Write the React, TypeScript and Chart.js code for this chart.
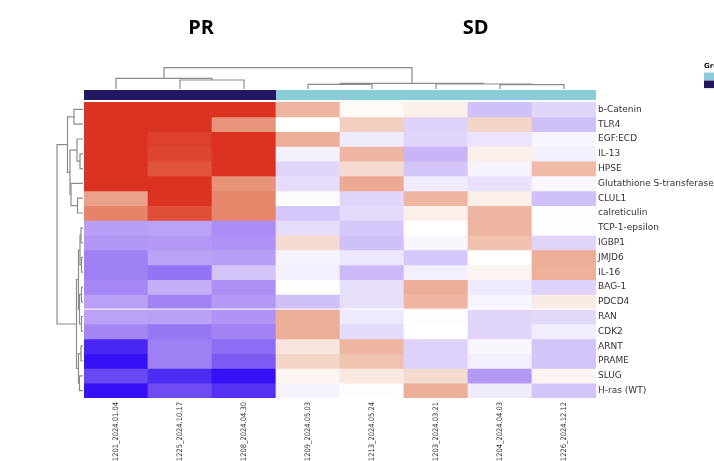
import React, { useEffect, useRef } from "react";
import { Chart, registerables } from "chart.js";

Chart.register(...registerables);

// ---------- data ----------
const samples = [
  "1201_2024.01.04",
  "1225_2024.10.17",
  "1208_2024.04.30",
  "1209_2024.05.03",
  "1213_2024.05.24",
  "1203_2024.03.21",
  "1204_2024.04.03",
  "1226_2024.12.12",
];

const sampleGroups = ["PR", "PR", "PR", "SD", "SD", "SD", "SD", "SD"];

const groupNames = ["PR", "SD"];
const groupTitlePositions = [1.33, 5.62]; // in column units

const genes = [
  "b-Catenin",
  "TLR4",
  "EGF:ECD",
  "IL-13",
  "HPSE",
  "Glutathione S-transferase",
  "CLUL1",
  "calreticulin",
  "TCP-1-epsilon",
  "IGBP1",
  "JMJD6",
  "IL-16",
  "BAG-1",
  "PDCD4",
  "RAN",
  "CDK2",
  "ARNT",
  "PRAME",
  "SLUG",
  "H-ras (WT)",
];

// scaled expression (-1 .. 1), one row per gene, one column per sample
const cellValues: number[][] = [
  [1.0, 1.0, 1.0, 0.45, 0.03, 0.1, -0.3, -0.2],
  [1.0, 1.0, 0.62, 0.0, 0.3, -0.22, 0.25, -0.3],
  [1.0, 0.95, 1.0, 0.5, -0.1, -0.2, -0.13, -0.05],
  [1.0, 0.93, 1.0, -0.07, 0.45, -0.35, 0.1, -0.08],
  [1.0, 0.88, 1.0, -0.2, 0.22, -0.28, -0.06, 0.42],
  [1.0, 1.0, 0.63, -0.17, 0.52, -0.1, -0.14, -0.04],
  [0.55, 1.0, 0.68, 0.02, -0.2, 0.45, 0.1, -0.3],
  [0.7, 0.9, 0.68, -0.27, -0.18, 0.1, 0.45, 0.01],
  [-0.45, -0.43, -0.52, -0.17, -0.27, 0.0, 0.45, 0.01],
  [-0.48, -0.47, -0.5, 0.22, -0.3, -0.04, 0.38, -0.2],
  [-0.57, -0.43, -0.45, -0.06, -0.12, -0.27, 0.0, 0.5],
  [-0.57, -0.62, -0.28, -0.08, -0.33, -0.08, 0.07, 0.48],
  [-0.54, -0.38, -0.51, 0.01, -0.15, 0.5, -0.11, -0.22],
  [-0.44, -0.56, -0.47, -0.3, -0.15, 0.45, -0.05, 0.12],
  [-0.43, -0.44, -0.49, 0.5, -0.11, 0.01, -0.2, -0.19],
  [-0.55, -0.61, -0.56, 0.5, -0.18, 0.0, -0.2, -0.09],
  [-0.92, -0.57, -0.65, 0.15, 0.45, -0.22, -0.04, -0.28],
  [-1.0, -0.57, -0.72, 0.25, 0.37, -0.22, -0.08, -0.28],
  [-0.8, -0.9, -1.0, 0.06, 0.14, 0.22, -0.47, 0.06],
  [-1.0, -0.78, -0.88, -0.06, -0.01, 0.5, -0.1, -0.28],
];

// linkage: [childA, childB, height]; new node id = n + row index
const colLinkage: number[][] = [
  [1, 2, 9],
  [0, 8, 10.7],
  [6, 7, 4.3],
  [3, 4, 4.7],
  [5, 10, 5.0],
  [11, 12, 5.7],
  [9, 13, 21.3],
];

const rowLinkage: number[][] = [
  [0, 1, 9],
  [3, 4, 3],
  [2, 21, 6],
  [6, 7, 5.5],
  [5, 23, 12],
  [22, 24, 13],
  [20, 25, 15.5],
  [8, 9, 2],
  [10, 11, 1.5],
  [27, 28, 3],
  [12, 13, 1.5],
  [14, 15, 1.5],
  [30, 31, 3.5],
  [29, 32, 4.5],
  [16, 17, 2],
  [18, 19, 3.5],
  [34, 35, 4.5],
  [33, 36, 6.5],
  [26, 37, 26],
];

// ---------- styles ----------
const groupColors: Record<string, string> = { PR: "#241660", SD: "#89CDD9" };
const legendOrder = ["SD", "PR"];

const colorStops: [number, number[]][] = [
  [-1, [53, 17, 244]],
  [-0.75, [118, 84, 242]],
  [-0.5, [174, 146, 245]],
  [-0.25, [217, 204, 249]],
  [0, [255, 255, 255]],
  [0.25, [244, 214, 200]],
  [0.5, [236, 174, 150]],
  [0.75, [228, 120, 92]],
  [1, [220, 50, 33]],
];

function valueColor(v: number): string {
  const c = Math.max(-1, Math.min(1, v));
  for (let i = 0; i < colorStops.length - 1; i++) {
    const [a, ca] = colorStops[i];
    const [b, cb] = colorStops[i + 1];
    if (c >= a && c <= b) {
      const t = (c - a) / (b - a);
      const r = Math.round(ca[0] + (cb[0] - ca[0]) * t);
      const g = Math.round(ca[1] + (cb[1] - ca[1]) * t);
      const bl = Math.round(ca[2] + (cb[2] - ca[2]) * t);
      return `rgb(${r},${g},${bl})`;
    }
  }
  return "#fff";
}

function drawDendro(
  ctx: CanvasRenderingContext2D,
  linkage: number[][],
  n: number,
  leafPos: (i: number) => number,
  heightPos: (h: number) => number,
  vertical: boolean
) {
  const pos: number[] = [];
  const hts: number[] = [];
  for (let i = 0; i < n; i++) {
    pos[i] = leafPos(i);
    hts[i] = 0;
  }
  ctx.save();
  ctx.strokeStyle = "#8c8c8c";
  ctx.lineWidth = 1.2;
  linkage.forEach(([a, b, h], k) => {
    const id = n + k;
    const pa = pos[a], pb = pos[b];
    const ha = heightPos(hts[a]), hb = heightPos(hts[b]), hh = heightPos(h);
    ctx.beginPath();
    if (vertical) {
      ctx.moveTo(pa, ha);
      ctx.lineTo(pa, hh);
      ctx.lineTo(pb, hh);
      ctx.lineTo(pb, hb);
    } else {
      ctx.moveTo(ha, pa);
      ctx.lineTo(hh, pa);
      ctx.lineTo(hh, pb);
      ctx.lineTo(hb, pb);
    }
    ctx.stroke();
    pos[id] = (pa + pb) / 2;
    hts[id] = h;
  });
  ctx.restore();
}

const heatmapDecor = {
  id: "heatmapDecor",
  afterDatasetsDraw(chart: any) {
    const { ctx, chartArea } = chart;
    const ys = chart.scales.y;
    ctx.save();
    ctx.strokeStyle = "rgba(255,255,255,0.85)";
    ctx.lineWidth = 1.2;
    const y = ys.getPixelForValue(14);
    ctx.beginPath();
    ctx.moveTo(chartArea.left, y);
    ctx.lineTo(chartArea.right, y);
    ctx.stroke();
    ctx.restore();
  },
  afterDraw(chart: any) {
    const { ctx, chartArea } = chart;
    const xs = chart.scales.x;
    const ys = chart.scales.y;

    // group colour bar
    const barTop = chartArea.top - 12;
    const barH = 10;
    sampleGroups.forEach((g, i) => {
      const l = xs.getPixelForValue(i - 0.5);
      const r = xs.getPixelForValue(i + 0.5);
      ctx.fillStyle = groupColors[g];
      ctx.fillRect(l, barTop, r - l + (i < sampleGroups.length - 1 ? 0.5 : 0), barH);
    });

    // column dendrogram
    drawDendro(
      ctx,
      colLinkage,
      samples.length,
      (i) => xs.getPixelForValue(i),
      (h) => barTop - 1 - h,
      true
    );

    // row dendrogram
    drawDendro(
      ctx,
      rowLinkage,
      genes.length,
      (i) => ys.getPixelForValue(i + 0.5),
      (h) => chartArea.left - 1 - h,
      false
    );

    // group titles
    ctx.save();
    ctx.fillStyle = "#000";
    ctx.font = "bold 20px 'Open Sans', 'DejaVu Sans', sans-serif";
    ctx.textAlign = "center";
    ctx.textBaseline = "alphabetic";
    groupNames.forEach((g, i) => {
      ctx.fillText(g, xs.getPixelForValue(groupTitlePositions[i]), 34);
    });
    ctx.restore();

    // legend (partially off canvas)
    ctx.save();
    ctx.fillStyle = "#111";
    ctx.font = "bold 7px 'DejaVu Sans', sans-serif";
    ctx.textAlign = "left";
    ctx.fillText("Group", 704, 67.5);
    legendOrder.forEach((g, i) => {
      ctx.fillStyle = groupColors[g];
      ctx.fillRect(704, 72.5 + i * 8, 12, 7.6);
    });
    ctx.restore();
  },
};

export default function App() {
  const canvasRef = useRef<HTMLCanvasElement | null>(null);

  useEffect(() => {
    if (!canvasRef.current) return;
    const datasets = genes.map((gene, r) => ({
      label: gene,
      data: samples.map(() => [r, r + 1]),
      backgroundColor: cellValues[r].map((v) => valueColor(v)),
      borderWidth: 0,
      barPercentage: 1,
      categoryPercentage: 1,
      grouped: false,
    }));

    const chart = new Chart(canvasRef.current, {
      type: "bar",
      data: { labels: samples, datasets: datasets as any },
      options: {
        animation: false,
        responsive: false,
        devicePixelRatio: 1,
        events: [],
        layout: { padding: { left: 84, top: 102, right: 0, bottom: 0 } },
        plugins: {
          legend: { display: false },
          tooltip: { enabled: false },
          title: { display: false },
        },
        scales: {
          x: {
            type: "category",
            position: "bottom",
            grid: { display: false, drawTicks: false },
            border: { display: false },
            ticks: {
              minRotation: 90,
              maxRotation: 90,
              autoSkip: false,
              padding: 4,
              color: "#333",
              font: { family: "'DejaVu Sans Condensed', 'DejaVu Sans', sans-serif", size: 7.5 },
            },
            afterFit: (s: any) => {
              s.height = 63;
            },
          },
          y: {
            type: "linear",
            position: "right",
            min: 0,
            max: 20,
            reverse: true,
            grid: { display: false, drawTicks: false },
            border: { display: false },
            afterBuildTicks: (axis: any) => {
              axis.ticks = genes.map((_, i) => ({ value: i + 0.5 }));
            },
            ticks: {
              autoSkip: false,
              padding: 2,
              color: "#333",
              font: { family: "'DejaVu Sans', sans-serif", size: 9 },
              callback: (_v: any, index: number) => genes[index],
            },
            afterFit: (s: any) => {
              s.width = 118;
            },
          },
        },
      } as any,
      plugins: [heatmapDecor],
    });
    return () => chart.destroy();
  }, []);

  return (
    <div style={{ position: "absolute", left: 0, top: 0, width: 714, height: 461, background: "#fff" }}>
      <canvas ref={canvasRef} width={714} height={461} style={{ width: 714, height: 461, display: "block" }} />
    </div>
  );
}
